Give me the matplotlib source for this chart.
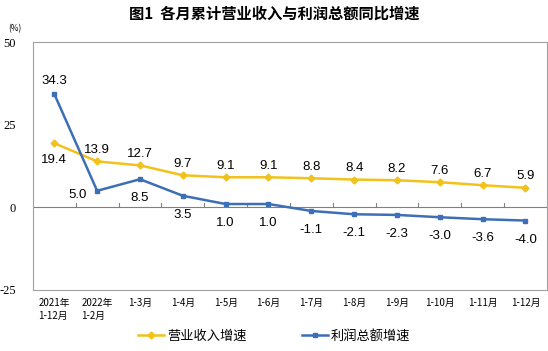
import matplotlib
matplotlib.use("Agg")
import matplotlib.pyplot as plt
from matplotlib.lines import Line2D

plt.rcParams['font.family'] = ['Noto Sans CJK SC', 'DejaVu Sans']

categories = ['2021年\n1-12月', '2022年\n1-2月', '1-3月', '1-4月', '1-5月', '1-6月',
              '1-7月', '1-8月', '1-9月', '1-10月', '1-11月', '1-12月']
revenue = [19.4, 13.9, 12.7, 9.7, 9.1, 9.1, 8.8, 8.4, 8.2, 7.6, 6.7, 5.9]
profit = [34.3, 5.0, 8.5, 3.5, 1.0, 1.0, -1.1, -2.1, -2.3, -3.0, -3.6, -4.0]

yellow = '#F2C21B'
blue = '#3D6FB6'
num_font = 'Liberation Sans'

fig = plt.figure(figsize=(5.48, 3.51), dpi=100)
ax = fig.add_axes([0.060, 0.174, 0.938, 0.706])
x = list(range(len(categories)))

ax.plot(x, revenue, color=yellow, lw=1.8, marker='D', ms=3.5, label='营业收入增速')
ax.plot(x, profit, color=blue, lw=1.8, marker='s', ms=3.5, label='利润总额增速')

ax.set_xlim(-0.5, len(categories) - 0.5)
ax.set_ylim(-25, 50)
ax.set_yticks([-25, 0, 25, 50])
ax.set_yticklabels(['-25', '0', '25', '50'], family='Liberation Serif', fontsize=9)
ax.tick_params(axis='y', length=0, pad=12)
ax.set_xticks(x)
ax.set_xticklabels(categories, fontsize=7, multialignment='left', linespacing=1.35)
ax.tick_params(axis='x', length=0, pad=6)
for s in ax.spines.values():
    s.set_color('#A0A0A0')
    s.set_linewidth(0.8)

# zero axis with small ticks between categories
ax.axhline(0, color='#808080', lw=0.8, zorder=1)
for i in range(len(categories) - 1):
    ax.plot([i + 0.5, i + 0.5], [0, 1.3], color='#808080', lw=0.8, zorder=1)

# data labels
for i, v in enumerate(revenue):
    dy = -14 if i == 0 else 6
    ax.annotate(f'{v:.1f}', (i, v), xytext=(0, dy), textcoords='offset points',
                ha='center', fontsize=9.5, family=num_font)
for i, v in enumerate(profit):
    if i == 0:
        ax.annotate(f'{v:.1f}', (i, v), xytext=(0, 7), textcoords='offset points',
                    ha='center', fontsize=9.5, family=num_font)
    elif i == 1:
        ax.annotate(f'{v:.1f}', (i, v), xytext=(-14, -3), textcoords='offset points',
                    ha='center', va='center', fontsize=9.5, family=num_font)
    else:
        ax.annotate(f'{v:.1f}', (i, v), xytext=(0, -16), textcoords='offset points',
                    ha='center', fontsize=9.5, family=num_font)

fig.text(0.015, 0.91, '(%)', fontsize=6)
fig.suptitle('图1  各月累计营业收入与利润总额同比增速', x=0.5, y=0.985,
             fontsize=11, fontweight='bold')

handles = [Line2D([], [], color=yellow, lw=1.8, marker='D', ms=3.5),
           Line2D([], [], color=blue, lw=1.8, marker='s', ms=3.5)]
fig.legend(handles, ['营业收入增速', '利润总额增速'], loc='lower center',
           bbox_to_anchor=(0.5, -0.01), ncol=2, frameon=False, fontsize=9.5,
           handlelength=2, handletextpad=0.2, columnspacing=4.2)

fig.savefig('out.png', dpi=100)
